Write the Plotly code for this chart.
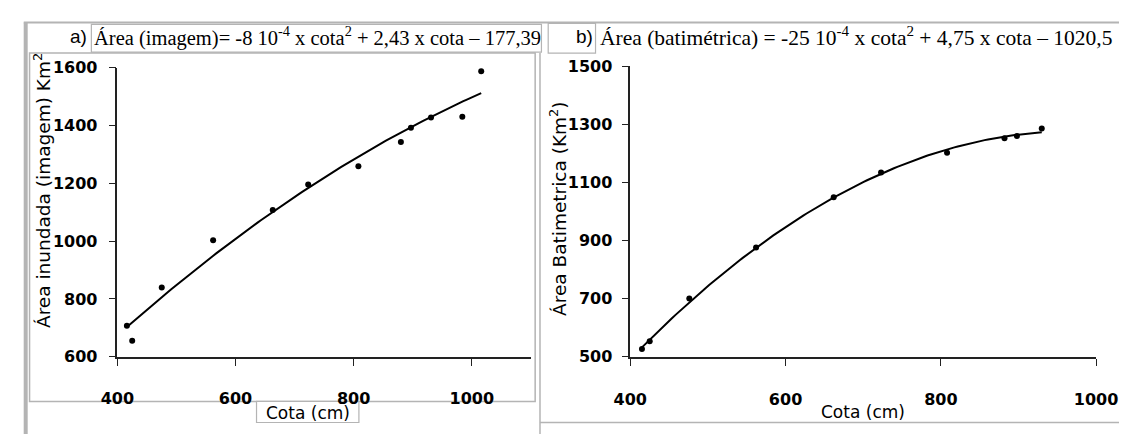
import numpy as np
import plotly.graph_objects as go

# ---- data ----
cota_a = [416, 425, 475, 562, 663, 723, 808, 880, 897, 931, 984, 1016]
area_img = [707, 655, 840, 1003, 1108, 1196, 1259, 1343, 1392, 1428, 1430, 1588]

cota_b = [415, 425, 476, 562, 662, 723, 808, 882, 898, 930]
area_bat = [527, 553, 701, 876, 1049, 1135, 1203, 1253, 1260, 1286]

ticks_a_x = [400, 600, 800, 1000]
ticks_a_y = [600, 800, 1000, 1200, 1400, 1600]
ticks_b_x = [400, 600, 800, 1000]
ticks_b_y = [500, 700, 900, 1100, 1300, 1500]

W, H = 1141, 444


def px(x):
    return x / W


def py(y):
    return 1 - y / H


# polynomial (2nd order) trendlines, as in the original spreadsheet
def trend(xs, ys):
    c = np.polyfit(xs, ys, 2)
    xx = np.linspace(min(xs), max(xs), 120)
    return xx, np.polyval(c, xx)


ta_x, ta_y = trend(cota_a, area_img)
tb_x, tb_y = trend(cota_b, area_bat)

fig = go.Figure()
fig.add_trace(go.Scatter(x=ta_x, y=ta_y, mode="lines", line=dict(color="black", width=2),
                         xaxis="x", yaxis="y", showlegend=False))
fig.add_trace(go.Scatter(x=cota_a, y=area_img, mode="markers",
                         marker=dict(color="black", size=6), xaxis="x", yaxis="y", showlegend=False))
fig.add_trace(go.Scatter(x=tb_x, y=tb_y, mode="lines", line=dict(color="black", width=2),
                         xaxis="x2", yaxis="y2", showlegend=False))
fig.add_trace(go.Scatter(x=cota_b, y=area_bat, mode="markers",
                         marker=dict(color="black", size=6), xaxis="x2", yaxis="y2", showlegend=False))

tickfont = dict(family="DejaVu Sans", size=16, color="black", weight="bold")
ax_common = dict(showgrid=False, zeroline=False, showline=True, linecolor="#222", linewidth=1.5,
                 ticks="outside", ticklen=7, tickcolor="#222", tickwidth=1.2, tickfont=tickfont)

fig.update_layout(
    width=W, height=H, margin=dict(l=0, r=0, t=0, b=0),
    paper_bgcolor="white", plot_bgcolor="white",
    xaxis=dict(domain=[px(104), px(532)], range=[400, 1100], tickvals=ticks_a_x,
               anchor="y", ticklabelstandoff=19, **ax_common),
    yaxis=dict(domain=[py(363.3), py(61.3)], range=[600, 1600], tickvals=ticks_a_y,
               anchor="x", ticklabelstandoff=8, **ax_common),
    xaxis2=dict(domain=[px(635), px(1117.3)], range=[400, 1000], tickvals=ticks_b_x,
                anchor="y2", ticklabelstandoff=20, **ax_common),
    yaxis2=dict(domain=[py(363.3), py(60)], range=[500, 1500], tickvals=ticks_b_y,
                anchor="x2", ticklabelstandoff=6, **ax_common),
)

border = "#b4b4b4"
shapes = [
    dict(type="line", x0=px(7), x1=px(1141), y0=py(14), y1=py(14), line=dict(color=border, width=2)),
    dict(type="line", x0=px(9), x1=px(9), y0=py(14), y1=py(444), line=dict(color=border, width=4)),
    dict(type="rect", x0=px(13), x1=px(536.5), y0=py(46), y1=py(410), line=dict(color=border, width=1.5)),
    dict(type="rect", x0=px(77), x1=px(543), y0=py(16), y1=py(45), line=dict(color=border, width=1.2),
         fillcolor="white"),
    dict(type="line", x0=px(541.5), x1=px(541.5), y0=py(46), y1=py(444), line=dict(color=border, width=1.5)),
    dict(type="line", x0=px(541.5), x1=px(1141), y0=py(432), y1=py(432), line=dict(color=border, width=1.5)),
    dict(type="rect", x0=px(550), x1=px(599), y0=py(15), y1=py(46), line=dict(color=border, width=1.2),
         fillcolor="white"),
    dict(type="rect", x0=px(248), x1=px(354), y0=py(410), y1=py(432), line=dict(color=border, width=1.2),
         fillcolor="white"),
]
for s in shapes:
    s["xref"] = "paper"
    s["yref"] = "paper"
    s["layer"] = "below"
fig.update_layout(shapes=shapes)

lab = dict(family="DejaVu Sans", size=17, color="black")
ylab = dict(family="DejaVu Sans", size=18.5, color="black")
arial = dict(family="Liberation Sans", size=19, color="black")
ann = [
    dict(x=px(75), y=py(29), text="a)", font=arial, xanchor="right", yanchor="middle"),
    dict(x=px(78), y=py(29),
         text="Área (imagem)= -8 10<sup>-4</sup> x cota<sup>2</sup> + 2,43 x cota – 177,39",
         font=dict(family="Liberation Serif", size=20.5, color="black"), xanchor="left", yanchor="middle"),
    dict(x=px(598), y=py(29), text="b)", font=arial, xanchor="right", yanchor="middle"),
    dict(x=px(602), y=py(29),
         text="Área (batimétrica) = -25 10<sup>-4</sup> x cota<sup>2</sup> + 4,75 x cota – 1020,5",
         font=dict(family="Liberation Serif", size=21.5, color="black"), xanchor="left", yanchor="middle"),
    dict(x=px(301), y=py(422), text="Cota (cm)", font=lab, xanchor="center", yanchor="middle"),
    dict(x=px(876), y=py(421.5), text="Cota (cm)", font=lab, xanchor="center", yanchor="middle"),
    dict(x=px(26), y=py(190), text="Área inundada (imagem) Km<sup>2</sup>", font=ylab, textangle=-90,
         xanchor="center", yanchor="middle"),
    dict(x=px(560), y=py(208), text="Área Batimetrica (Km<sup>2</sup>)", font=ylab, textangle=-90,
         xanchor="center", yanchor="middle"),
]
for a in ann:
    a["xref"] = "paper"
    a["yref"] = "paper"
    a["showarrow"] = False
fig.update_layout(annotations=ann)

fig.write_html("out.html")
